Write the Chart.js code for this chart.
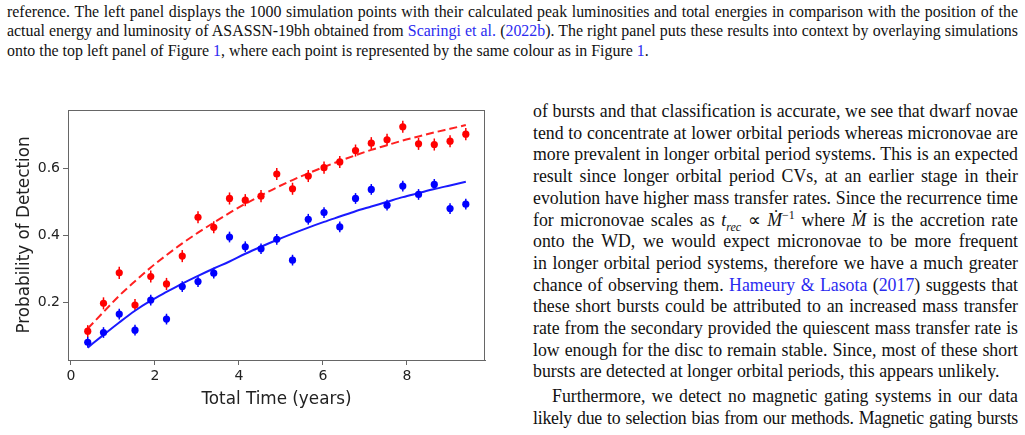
<!DOCTYPE html>
<html>
<head>
<meta charset="utf-8">
<script src="https://cdn.jsdelivr.net/npm/chart.js@4.4.1/dist/chart.umd.min.js"></script>
<style>
  body { margin: 0; width: 1025px; height: 435px; overflow: hidden; position: relative; background: #fff;
         font-family: "Liberation Serif", "Times New Roman", serif; color: #111; }
  .col { position: absolute; }
  .col div { text-align: justify; text-align-last: justify; }
  .col div.last { text-align-last: left; }
  .lk { color: #2b2bf0; }
  #top { left: 7px; top: 1.5px; width: 1011px; font-size: 15.9px; line-height: 19.5px; }
  #right { left: 533px; top: 101px; width: 485px; font-size: 17.8px; line-height: 21.7px; }
  #right .indent { text-indent: 19px; margin-top: 3.3px; }
  #right .tight { letter-spacing: -0.25px; }
  #chartBox { position: absolute; left: 0; top: 95px; width: 500px; height: 320px; }
</style>
</head>
<body>

<div id="top" class="col">
  <div>reference. The left panel displays the 1000 simulation points with their calculated peak luminosities and total energies in comparison with the position of the</div>
  <div>actual energy and luminosity of ASASSN-19bh obtained from <span class="lk">Scaringi et al.</span> (<span class="lk">2022b</span>). The right panel puts these results into context by overlaying simulations</div>
  <div class="last">onto the top left panel of Figure <span class="lk">1</span>, where each point is represented by the same colour as in Figure <span class="lk">1</span>.</div>
</div>

<div id="chartBox"><canvas id="probChart"></canvas></div>

<div id="right" class="col">
  <div>of bursts and that classification is accurate, we see that dwarf novae</div>
  <div>tend to concentrate at lower orbital periods whereas micronovae are</div>
  <div>more prevalent in longer orbital period systems. This is an expected</div>
  <div>result since longer orbital period CVs, at an earlier stage in their</div>
  <div>evolution have higher mass transfer rates. Since the recurrence time</div>
  <div>for micronovae scales as <i>t</i><sub style="font-size:12px;line-height:0"><i>rec</i></sub> &#8733; <i>&#7744;</i><sup style="font-size:12px;line-height:0">&#8722;1</sup> where <i>&#7744;</i> is the accretion rate</div>
  <div>onto the WD, we would expect micronovae to be more frequent</div>
  <div>in longer orbital period systems, therefore we have a much greater</div>
  <div>chance of observing them. <span class="lk">Hameury &amp; Lasota</span> (<span class="lk">2017</span>) suggests that</div>
  <div>these short bursts could be attributed to an increased mass transfer</div>
  <div>rate from the secondary provided the quiescent mass transfer rate is</div>
  <div>low enough for the disc to remain stable. Since, most of these short</div>
  <div class="last">bursts are detected at longer orbital periods, this appears unlikely.</div>
  <div class="indent">Furthermore, we detect no magnetic gating systems in our data</div>
  <div class="tight">likely due to selection bias from our methods. Magnetic gating bursts</div>
</div>

<script>
// total observing time (years) for each simulation step
const totalTime = [0.4, 0.775, 1.15, 1.525, 1.9, 2.275, 2.65, 3.025, 3.4, 3.775, 4.15, 4.525, 4.9,
                   5.275, 5.65, 6.025, 6.4, 6.775, 7.15, 7.525, 7.9, 8.275, 8.65, 9.025, 9.4];

// measured detection probability (red = upper set, blue = lower set)
const redProb = [0.114, 0.197, 0.288, 0.192, 0.277, 0.255, 0.338, 0.454, 0.424, 0.510, 0.505, 0.517, 0.583,
                 0.539, 0.577, 0.602, 0.619, 0.653, 0.675, 0.685, 0.724, 0.673, 0.671, 0.681, 0.702];
const blueProb = [0.081, 0.110, 0.165, 0.117, 0.207, 0.150, 0.247, 0.262, 0.287, 0.395, 0.366, 0.360, 0.388,
                  0.326, 0.448, 0.468, 0.425, 0.510, 0.537, 0.490, 0.547, 0.522, 0.552, 0.480, 0.493];

// error bar half-heights
const redErr = [0.018, 0.018, 0.018, 0.018, 0.018, 0.018, 0.018, 0.018, 0.018, 0.018, 0.018, 0.018, 0.018,
                0.018, 0.018, 0.018, 0.018, 0.018, 0.018, 0.018, 0.018, 0.018, 0.018, 0.018, 0.018];
const blueErr = [0.016, 0.016, 0.016, 0.016, 0.016, 0.016, 0.016, 0.016, 0.016, 0.016, 0.016, 0.016, 0.016,
                 0.016, 0.016, 0.016, 0.016, 0.016, 0.016, 0.016, 0.016, 0.016, 0.016, 0.016, 0.016];

// fitted curves
const redFit = [0.122, 0.171, 0.220, 0.263, 0.304, 0.341, 0.376, 0.408, 0.438, 0.467, 0.494, 0.519, 0.543,
                0.565, 0.585, 0.604, 0.622, 0.639, 0.655, 0.669, 0.683, 0.695, 0.707, 0.718, 0.729];
const blueFit = [0.065, 0.103, 0.140, 0.175, 0.205, 0.231, 0.256, 0.279, 0.301, 0.322, 0.345, 0.366, 0.386,
                 0.405, 0.423, 0.440, 0.456, 0.472, 0.486, 0.500, 0.514, 0.526, 0.538, 0.549, 0.560];

const xTicks = [0, 2, 4, 6, 8];
const yTicks = [0.2, 0.4, 0.6];

function toPoints(xs, ys) {
  return xs.map((x, i) => ({ x: x, y: ys[i] }));
}

const tickColor = '#222';
const frameColor = '#666';

// vertical error bars, drawn through the scales
const errorBars = {
  id: 'errorBars',
  beforeDatasetsDraw(chart) {
    const ctx = chart.ctx;
    const xs = chart.scales.x, ys = chart.scales.y;
    const sets = [[redProb, redErr, '#ff0000'], [blueProb, blueErr, '#0000ff']];
    ctx.save();
    ctx.lineWidth = 1.5;
    sets.forEach(s => {
      ctx.strokeStyle = s[2];
      totalTime.forEach((t, i) => {
        const px = xs.getPixelForValue(t);
        ctx.beginPath();
        ctx.moveTo(px, ys.getPixelForValue(s[0][i] - s[1][i]));
        ctx.lineTo(px, ys.getPixelForValue(s[0][i] + s[1][i]));
        ctx.stroke();
      });
    });
    ctx.restore();
  }
};

// box around the axes, like matplotlib spines
const frame = {
  id: 'frame',
  afterDraw(chart) {
    const a = chart.chartArea, ctx = chart.ctx;
    ctx.save();
    ctx.strokeStyle = frameColor;
    ctx.lineWidth = 1;
    ctx.strokeRect(a.left + 0.5, a.top + 0.5, a.right - a.left - 1, a.bottom - a.top);
    ctx.restore();
  }
};

new Chart(document.getElementById('probChart'), {
  type: 'scatter',
  data: {
    datasets: [
      {
        data: toPoints(totalTime, redProb),
        backgroundColor: '#ff0000', borderColor: '#ff0000',
        pointRadius: 3.6, pointHoverRadius: 3.6, pointBorderWidth: 0
      },
      {
        data: toPoints(totalTime, blueProb),
        backgroundColor: '#0000ff', borderColor: '#0000ff',
        pointRadius: 3.6, pointHoverRadius: 3.6, pointBorderWidth: 0
      },
      {
        data: toPoints(totalTime, redFit),
        showLine: true, pointRadius: 0, borderColor: '#ff2020', borderWidth: 2,
        borderDash: [8, 4], cubicInterpolationMode: 'monotone', fill: false
      },
      {
        data: toPoints(totalTime, blueFit),
        showLine: true, pointRadius: 0, borderColor: '#1a1aff', borderWidth: 2,
        cubicInterpolationMode: 'monotone', fill: false
      }
    ]
  },
  options: {
    responsive: true,
    maintainAspectRatio: false,
    animation: false,
    events: [],
    layout: { padding: { left: 0, right: 15, top: 15, bottom: 0 } },
    plugins: { legend: { display: false }, tooltip: { enabled: false } },
    scales: {
      x: {
        type: 'linear', min: -0.07, max: 9.857,
        afterBuildTicks: s => { s.ticks = xTicks.map(v => ({ value: v })); },
        afterFit: s => { s.height = 55; },
        grid: { display: true, drawOnChartArea: false, drawTicks: true, tickLength: 5, color: frameColor },
        border: { display: true, color: frameColor },
        ticks: { color: tickColor, padding: 3, font: { family: 'DejaVu Sans', size: 14 }, maxRotation: 0 },
        title: { display: true, text: 'Total Time (years)', color: tickColor,
                 font: { family: 'DejaVu Sans', size: 16.8 }, padding: { top: 0, bottom: 5 } }
      },
      y: {
        type: 'linear', min: 0.028, max: 0.774,
        afterBuildTicks: s => { s.ticks = yTicks.map(v => ({ value: v })); },
        afterFit: s => { s.width = 68; },
        grid: { display: true, drawOnChartArea: false, drawTicks: true, tickLength: 5, color: frameColor },
        border: { display: true, color: frameColor },
        ticks: { color: tickColor, padding: 3, font: { family: 'DejaVu Sans', size: 14 },
                 callback: v => v.toFixed(1) },
        title: { display: true, text: 'Probability of Detection', color: tickColor,
                 font: { family: 'DejaVu Sans', size: 16.8 }, padding: { top: 15, bottom: 0 } }
      }
    }
  },
  plugins: [errorBars, frame]
});
</script>
</body>
</html>
